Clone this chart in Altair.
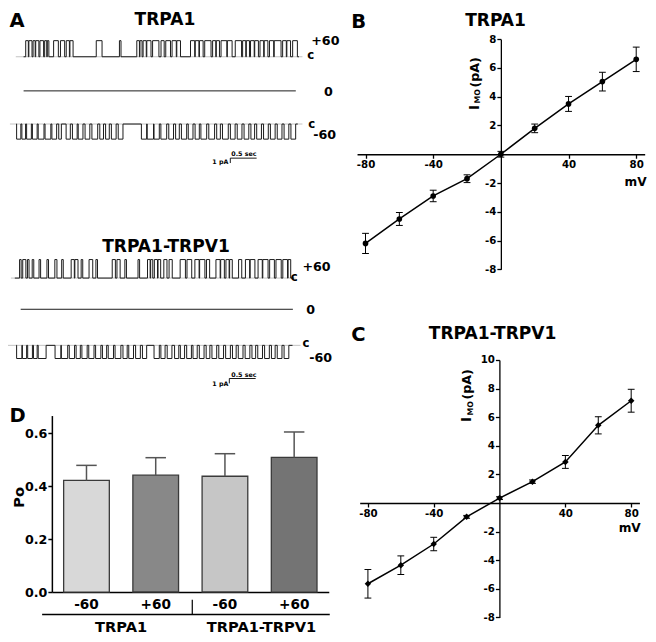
import altair as alt
import pandas as pd

# ------------------------------------------------------------------ data
# Panel B / C : current-voltage relations (mean +/- SEM)
mv = [-80, -60, -40, -20, 0, 20, 40, 60, 80]
trpa1_i = [-6.2, -4.5, -2.9, -1.7, 0.0, 1.8, 3.5, 5.05, 6.6]
trpa1_err = [0.7, 0.45, 0.4, 0.27, 0.2, 0.3, 0.52, 0.65, 0.85]
hetero_i = [-5.65, -4.35, -2.87, -0.97, 0.34, 1.49, 2.87, 5.43, 7.15]
hetero_err = [1.0, 0.65, 0.47, 0.1, 0.1, 0.12, 0.45, 0.6, 0.8]

# Panel D : open probability
po_groups = ["TRPA1", "TRPA1", "TRPA1-TRPV1", "TRPA1-TRPV1"]
po_voltage = ["-60", "+60", "-60", "+60"]
po_mean = [0.421, 0.441, 0.437, 0.508]
po_sem = [0.057, 0.066, 0.085, 0.096]
po_fill = ["#d8d8d8", "#888888", "#c6c6c6", "#747474"]

# Panel A : single-channel records, open intervals (s from record start)
trace_names = ["a_p60", "a_0", "a_m60", "h_p60", "h_0", "h_m60"]
trace_vm = ["+60", "0", "-60", "+60", "0", "-60"]
trace_amp = [3.3, 0.0, -3.1, 3.8, 0.0, -2.7]          # pA
trace_dur = [5.23, 5.17, 5.35, 5.30, 5.17, 5.25]      # s
open_a_p60 = [(0.04, 0.09), (0.10, 0.16), (0.18, 0.22), (0.23, 0.29), (0.31, 0.38),
              (0.40, 0.44), (0.45, 0.48), (0.57, 0.66), (0.70, 0.78), (0.81, 0.87),
              (0.88, 0.94), (1.38, 1.49), (1.82, 1.85), (2.15, 2.20), (2.21, 2.25),
              (2.27, 2.33), (2.34, 2.42), (2.45, 2.57), (2.61, 2.67), (2.70, 2.79),
              (2.82, 2.90), (2.91, 2.98), (3.17, 3.25), (3.26, 3.33), (3.34, 3.41),
              (3.44, 3.56), (3.59, 3.65), (3.66, 3.72), (3.75, 3.86), (3.87, 3.96),
              (4.02, 4.14), (4.16, 4.22), (4.23, 4.29), (4.31, 4.38), (4.39, 4.46),
              (4.49, 4.56), (4.57, 4.64), (4.67, 4.75), (4.76, 4.89), (4.92, 4.99),
              (5.00, 5.07), (5.11, 5.20)]
open_a_m60 = [(0.01, 0.09), (0.11, 0.18), (0.20, 0.29), (0.31, 0.40), (0.42, 0.53),
              (0.55, 0.66), (0.68, 0.77), (0.81, 0.86), (0.95, 1.03), (1.07, 1.16),
              (1.18, 1.27), (1.31, 1.40), (1.44, 1.55), (1.59, 1.66), (1.70, 1.77),
              (1.81, 1.90), (1.94, 2.03), (2.38, 2.48), (2.49, 2.61), (2.62, 2.72),
              (2.75, 2.86), (2.90, 2.99), (3.03, 3.10), (3.14, 3.24), (3.27, 3.36),
              (3.40, 3.48), (3.51, 3.62), (3.66, 3.77), (3.81, 3.88), (3.92, 4.03),
              (4.07, 4.16), (4.20, 4.29), (4.33, 4.42), (4.46, 4.53), (4.57, 4.66),
              (4.70, 4.79), (4.83, 4.92), (4.96, 5.05), (5.09, 5.18), (5.22, 5.31)]
open_h_p60 = [(0.09, 0.12), (0.15, 0.21), (0.24, 0.27), (0.33, 0.36), (0.46, 0.49),
              (0.61, 0.64), (0.76, 0.80), (0.89, 0.92), (1.07, 1.13), (1.14, 1.20),
              (1.26, 1.29), (1.41, 1.48), (1.54, 1.57), (1.85, 1.91), (1.94, 2.00),
              (2.09, 2.12), (2.34, 2.37), (2.52, 2.57), (2.58, 2.62), (2.65, 2.71),
              (2.72, 2.77), (2.83, 2.89), (2.93, 2.99), (3.14, 3.24), (3.27, 3.36),
              (3.42, 3.50), (3.51, 3.61), (3.64, 3.70), (3.82, 3.90), (3.91, 3.98),
              (4.01, 4.07), (4.08, 4.13), (4.25, 4.31), (4.38, 4.46), (4.47, 4.56),
              (4.62, 4.70), (4.71, 4.81), (4.84, 4.93), (4.96, 5.06), (5.09, 5.18),
              (5.19, 5.24)]
open_h_m60 = [(0.01, 0.11), (0.12, 0.20), (0.22, 0.31), (0.33, 0.40), (0.42, 0.57),
              (0.74, 0.85), (0.86, 0.98), (1.01, 1.11), (1.14, 1.22), (1.25, 1.35),
              (1.38, 1.48), (1.51, 1.61), (1.64, 1.72), (1.75, 1.85), (1.88, 1.99),
              (2.03, 2.11), (2.14, 2.23), (2.27, 2.36), (2.40, 2.48), (2.62, 2.72),
              (2.75, 2.83), (2.87, 2.96), (3.01, 3.09), (3.12, 3.20), (3.24, 3.33),
              (3.36, 3.44), (3.48, 3.57), (3.61, 3.68), (3.72, 3.81), (3.85, 3.94),
              (3.98, 4.07), (4.11, 4.18), (4.22, 4.31), (4.35, 4.44), (4.48, 4.55),
              (4.59, 4.68), (4.72, 4.81), (4.85, 4.92), (4.96, 5.05), (5.09, 5.18)]
trace_open = [open_a_p60, [], open_a_m60, open_h_p60, [], open_h_m60]

# text
panel_letters = ["A", "B", "C", "D"]
panel_titles = ["TRPA1", "TRPA1-TRPV1"]
closed_label = "c"
x_unit = "mV"
scale_time = "0.5 sec"
scale_amp = "1 pA"

# ------------------------------------------------------------------ layout
S = 0.975                 # reference px -> canvas px
W, H = 640, 626
FONT = "DejaVu Sans"
PXS = 54.0                # px per second in panel A
PXPA = 5.0                # px per pA in panel A


def px(v):
    return v * S


def label(text, x, y, size, align="left", baseline="alphabetic", angle=0,
          color="black", weight="bold"):
    return alt.Chart(pd.DataFrame({"label": [text]})).mark_text(
        font=FONT, fontSize=size * S, fontWeight=weight, align=align,
        baseline=baseline, angle=angle, color=color
    ).encode(x=alt.value(px(x)), y=alt.value(px(y)), text="label:N")


# ------------------------------------------------------------------ panel A
trace_base = [50, 85, 119, 277, 309, 346]        # baseline y (ref px)
trace_start = [16, 16, 8.3, 7, 13, 8.3]          # record start x (ref px)
gray_span = [(8, 302), None, (2, 302), (3, 295), None, (0, 300)]

rows = []
for k, name in enumerate(trace_names):
    amp = trace_amp[k]
    pts = [(0.0, 0.0)]
    for a, b in trace_open[k]:
        pts += [(a, 0.0), (a, amp), (b, amp), (b, 0.0)]
    pts.append((trace_dur[k], 0.0))
    for i, (t, c) in enumerate(pts):
        rows.append({"trace": name, "idx": i,
                     "t": trace_start[k] / PXS + t,
                     "d": trace_base[k] / PXPA - c})
df_tr = pd.DataFrame(rows)

base_rows = []
for k, span in enumerate(gray_span):
    if span:
        base_rows.append({"t0": span[0] / PXS, "t1": span[1] / PXS,
                          "d": trace_base[k] / PXPA})
df_base = pd.DataFrame(base_rows)

bars = [(228, 154), (227, 380)]
df_hbar = pd.DataFrame([{"t0": bx / PXS, "t1": bx / PXS + 0.5, "d": by / PXPA}
                        for bx, by in bars])
df_vbar = pd.DataFrame([{"t": bx / PXS, "d0": by / PXPA, "d1": by / PXPA + 1.0}
                        for bx, by in bars])

xA = alt.Scale(domain=[0, 330 / PXS], range=[0, px(330)], nice=False, zero=False)
yA = alt.Scale(domain=[0, 400 / PXPA], range=[0, px(400)], nice=False, zero=False)

A_base = alt.Chart(df_base).mark_rule(color="#b4b4b4", strokeWidth=0.8).encode(
    x=alt.X("t0:Q", scale=xA, axis=None), x2="t1:Q",
    y=alt.Y("d:Q", scale=yA, axis=None))
A_tr = alt.Chart(df_tr).mark_line(color="#1c1c1c", strokeWidth=1.0).encode(
    x=alt.X("t:Q", scale=xA, axis=None), y=alt.Y("d:Q", scale=yA, axis=None),
    detail="trace:N", order="idx:Q")
A_h = alt.Chart(df_hbar).mark_rule(color="black", strokeWidth=0.9).encode(
    x=alt.X("t0:Q", scale=xA, axis=None), x2="t1:Q",
    y=alt.Y("d:Q", scale=yA, axis=None))
A_v = alt.Chart(df_vbar).mark_rule(color="black", strokeWidth=0.9).encode(
    x=alt.X("t:Q", scale=xA, axis=None),
    y=alt.Y("d0:Q", scale=yA, axis=None), y2="d1:Q")
panelA = alt.layer(A_base, A_tr, A_h, A_v)


# ------------------------------------------------------------------ panels B, C
def axis_common(**kw):
    return dict(title=None, grid=False, labelFont=FONT, labelFontWeight="bold",
                labelFontSize=10.5 * S, labelColor="black", domainColor="black",
                tickColor="black", domainWidth=1.3, tickWidth=1.3, tickSize=4,
                labelPadding=1, labelFlush=False, labelOverlap=False,
                labelExpr="toString(datum.value)", **kw)


def iv_panel(vals, errs, xrange, yrange, ydomain, yticks, x0_axis_y, y0_axis_x,
             shape, size):
    df = pd.DataFrame({"mv": mv, "i": vals,
                       "lo": [v - e for v, e in zip(vals, errs)],
                       "hi": [v + e for v, e in zip(vals, errs)]})
    xs = alt.Scale(domain=[-85, 85], range=[px(xrange[0]), px(xrange[1])],
                   nice=False, zero=False)
    ys = alt.Scale(domain=ydomain, range=[px(yrange[0]), px(yrange[1])],
                   nice=False, zero=False)
    xax = alt.Axis(orient="bottom", offset=px(x0_axis_y) - H,
                   values=[-80, -40, 40, 80], **axis_common())
    yax = alt.Axis(orient="left", offset=-px(y0_axis_x), values=yticks,
                   **axis_common())
    base = alt.Chart(df)
    line = base.mark_line(color="black", strokeWidth=1.5).encode(
        x=alt.X("mv:Q", scale=xs, axis=xax), y=alt.Y("i:Q", scale=ys, axis=yax))
    err = base.mark_rule(color="black", strokeWidth=1).encode(
        x=alt.X("mv:Q", scale=xs), y=alt.Y("lo:Q", scale=ys), y2="hi:Q")
    cap_lo = base.mark_tick(orient="horizontal", size=7 * S, thickness=1,
                            color="black", opacity=1).encode(
        x=alt.X("mv:Q", scale=xs), y=alt.Y("lo:Q", scale=ys))
    cap_hi = base.mark_tick(orient="horizontal", size=7 * S, thickness=1,
                            color="black", opacity=1).encode(
        x=alt.X("mv:Q", scale=xs), y=alt.Y("hi:Q", scale=ys))
    pts = base.mark_point(filled=True, shape=shape, size=size, color="black",
                          opacity=1).encode(
        x=alt.X("mv:Q", scale=xs), y=alt.Y("i:Q", scale=ys))
    return alt.layer(line, err, cap_lo, cap_hi, pts)


panelB = iv_panel(trpa1_i, trpa1_err, (358, 653), (268, 32), [-8, 8],
                  [-8, -6, -4, -2, 2, 4, 6, 8], 150, 505.5, "circle", 32)
panelC = iv_panel(hetero_i, hetero_err, (360.7, 647.6), (625, 361), [-8, 10],
                  [-8, -6, -4, -2, 2, 4, 6, 8, 10], 507.7, 504, "diamond", 42)

# ------------------------------------------------------------------ panel D
cats = [f"{g}|{v}" for g, v in zip(po_groups, po_voltage)]
df_d = pd.DataFrame({"cat": cats, "po": po_mean,
                     "top": [m + s for m, s in zip(po_mean, po_sem)],
                     "fill": po_fill})
xD = alt.Scale(domain=cats, range=[px(45), px(329)], paddingInner=0.34,
               paddingOuter=0.17)
yD = alt.Scale(domain=[0, 0.666], range=[px(599), px(418)], nice=False)
xDax = alt.Axis(orient="bottom", offset=px(599) - H, title=None, ticks=False,
                tickSize=0, labelPadding=5, labelFont=FONT, labelFontWeight="bold",
                labelFontSize=14 * S, labelColor="black", domainColor="black",
                domainWidth=1.5, labelAngle=0,
                labelExpr="split(datum.label, '|')[1]")
yDax = alt.Axis(orient="left", offset=-px(45), title=None, values=[0, 0.2, 0.4, 0.6],
                format=".1f", grid=False, labelFont=FONT, labelFontWeight="bold",
                labelFontSize=13 * S, labelColor="black", domainColor="black",
                tickColor="black", domainWidth=1.5, tickWidth=1.5, tickSize=4,
                labelPadding=1, labelFlush=False)
D_bar = alt.Chart(df_d).mark_bar(stroke="#3a3a3a", strokeWidth=1.3).encode(
    x=alt.X("cat:N", scale=xD, axis=xDax, sort=cats),
    y=alt.Y("po:Q", scale=yD, axis=yDax),
    fill=alt.Fill("fill:N", scale=None))
D_err = alt.Chart(df_d).mark_rule(color="#555555", strokeWidth=1.5).encode(
    x=alt.X("cat:N", scale=xD, sort=cats), y=alt.Y("po:Q", scale=yD), y2="top:Q")
D_cap = alt.Chart(df_d).mark_tick(orient="horizontal", size=21 * S, thickness=1.5,
                                  color="#555555", opacity=1).encode(
    x=alt.X("cat:N", scale=xD, sort=cats), y=alt.Y("top:Q", scale=yD))
panelD = alt.layer(D_bar, D_err, D_cap)

D_sep = alt.Chart(pd.DataFrame({"k": [0]})).mark_rule(color="black", strokeWidth=1.2).encode(
    x=alt.value(px(189)), y=alt.value(px(607)), y2=alt.value(px(622)))
D_line = alt.Chart(pd.DataFrame({"k": [0]})).mark_rule(color="black", strokeWidth=1.5).encode(
    x=alt.value(px(35)), x2=alt.value(px(330)), y=alt.value(px(622)))

# ------------------------------------------------------------------ labels
labels = [
    label(panel_letters[0], 1.5, 19.5, 20),
    label(panel_letters[1], 352, 21, 20),
    label(panel_letters[2], 352, 342, 20),
    label(panel_letters[3], 1.5, 425, 20),
    label(panel_titles[0], 161, 17.5, 17.5, align="center"),
    label(panel_titles[1], 162, 250, 17.5, align="center"),
    label(panel_titles[0], 500, 18, 17.5, align="center"),
    label(panel_titles[1], 497, 339, 17.5, align="center"),
    # trace labels
    label(trace_vm[0], 311, 38, 13),
    label(closed_label, 307, 52, 12),
    label(trace_vm[1], 324, 90, 13),
    label(closed_label, 308, 123, 12),
    label(trace_vm[2], 313, 134, 13),
    label(closed_label, 290, 280, 12),
    label(trace_vm[3], 302, 270, 13),
    label(trace_vm[4], 306, 314, 13),
    label(closed_label, 302, 348, 12),
    label(trace_vm[5], 309, 363, 13),
    # scale bars
    label(scale_time, 229, 152, 6.5),
    label(scale_amp, 226, 160, 6.5, align="right"),
    label(scale_time, 229, 378, 6.5),
    label(scale_amp, 226, 388, 6.5, align="right"),
    # IV axis units
    label(x_unit, 655, 183, 12.5, align="right"),
    label(x_unit, 649, 537, 12.5, align="right"),
    label("(pA)", 478.5, 66, 13, align="center", baseline="middle", angle=270),
    label("I", 478.5, 102, 13.5, align="center", baseline="middle", angle=270),
    label("MO", 482, 90.5, 8, align="center", baseline="middle", angle=270),
    label("(pA)", 471, 386, 13, align="center", baseline="middle", angle=270),
    label("I", 471, 422, 13.5, align="center", baseline="middle", angle=270),
    label("MO", 474.5, 410.5, 8, align="center", baseline="middle", angle=270),
    # panel D
    label("Po", 12, 502, 15, align="center", baseline="middle", angle=270),
    label(po_groups[0], 116, 640, 15, align="center"),
    label(po_groups[2], 260, 640, 15, align="center"),
]

chart = alt.layer(panelA, panelB, panelC, panelD, D_sep, D_line, *labels).resolve_scale(
    x="independent", y="independent"
).properties(
    width=W, height=H, autosize=alt.AutoSizeParams(type="none"), padding=0,
    background="white"
).configure_view(stroke=None)

chart.save("out.html", embed_options={"renderer": "svg", "actions": False})
